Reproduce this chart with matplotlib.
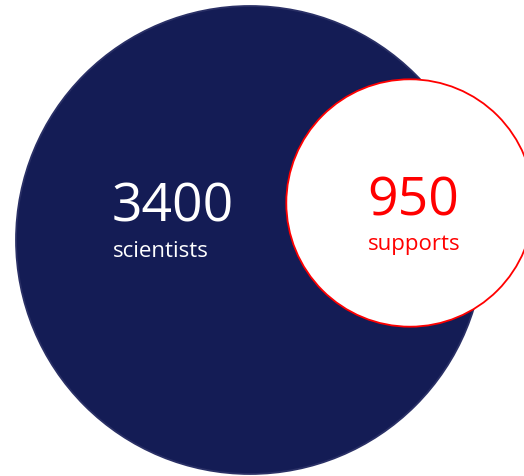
import numpy as np
import matplotlib.pyplot as plt
from matplotlib.patches import Circle

# counts shown in the bubbles
values = [3400, 950]
labels = ["scientists", "supports"]

fill_colors = ["#141c55", "#ffffff"]
edge_colors = ["#2a3066", "#ff0000"]
text_colors = ["#ffffff", "#ff0000"]

# layout in pixel units (y grows downward)
centers = [(250, 240), (410, 203)]
text_pos = [(112, 222), (367, 215)]
scale = 234 / np.sqrt(values[0])   # area proportional to value

fig = plt.figure(figsize=(5.24, 4.76), dpi=100)
ax = fig.add_axes([0, 0, 1, 1])
ax.set_xlim(0, 524)
ax.set_ylim(476, 0)
ax.set_aspect("equal")
ax.axis("off")

for i, v in enumerate(values):
    r = scale * np.sqrt(v)
    ax.add_patch(Circle(centers[i], r, facecolor=fill_colors[i],
                        edgecolor=edge_colors[i], linewidth=1.3, zorder=i + 1))
    tx, ty = text_pos[i]
    ax.text(tx, ty, f"{v}", color=text_colors[i], fontsize=38.5,
            family="Open Sans", ha="left", va="baseline", zorder=5)
    ax.text(tx + 1, ty + 35, labels[i], color=text_colors[i], fontsize=16,
            family="Open Sans", ha="left", va="baseline", zorder=5)

fig.savefig("out.png", dpi=100)
